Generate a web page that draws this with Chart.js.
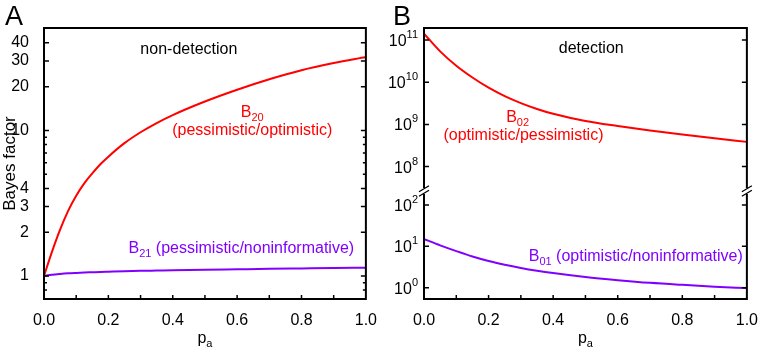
<!DOCTYPE html>
<html>
<head>
<meta charset="utf-8">
<title>Bayes factor vs p_a</title>
<script src="https://cdn.jsdelivr.net/npm/chart.js@4.4.1/dist/chart.umd.min.js"></script>
<style>
  body { margin: 0; background: #fff; }
  #wrap { position: relative; width: 762px; height: 350px; }
  .panel { position: absolute; top: 0; width: 381px; height: 350px; }
</style>
</head>
<body>
<div id="wrap">
  <div class="panel" style="left:0"><canvas id="chartA"></canvas></div>
  <div class="panel" style="left:381px"><canvas id="chartB"></canvas></div>
</div>
<script>
// Panel A (non-detection)
const pA = [0, 0.025, 0.05, 0.075, 0.1, 0.125, 0.15, 0.175, 0.2, 0.25, 0.3, 0.35, 0.4, 0.5, 0.6, 0.7, 0.8, 0.9, 1.0];
const b20 = [1.0, 1.47, 2.08, 2.8, 3.56, 4.33, 5.07, 5.86, 6.61, 8.18, 9.72, 11.25, 12.76, 15.81, 19.05, 22.49, 25.94, 29.04, 31.99];
const b21 = [1.0, 1.02, 1.033, 1.043, 1.05, 1.056, 1.061, 1.066, 1.07, 1.078, 1.085, 1.09, 1.095, 1.104, 1.112, 1.12, 1.127, 1.134, 1.14];

// Panel B (detection)
const pB = [0, 0.05, 0.1, 0.15, 0.2, 0.25, 0.3, 0.35, 0.4, 0.5, 0.6, 0.7, 0.8, 0.9, 1.0];
const b02 = [1.41e11, 5.37e10, 2.45e10, 1.29e10, 7.41e9, 4.68e9, 3.2e9, 2.32e9, 1.78e9, 1.2e9, 9.12e8, 7.16e8, 5.75e8, 4.68e8, 3.85e8];
const b01 = [15.0, 10.6, 7.69, 5.7, 4.43, 3.6, 3.01, 2.58, 2.26, 1.81, 1.52, 1.31, 1.17, 1.06, 0.976];

// tick values
const xTickMarks = [0.1, 0.2, 0.3, 0.4, 0.5, 0.6, 0.7, 0.8, 0.9];
const yMajorA = [1, 2, 3, 4, 10, 20, 30, 40];
const yMinorA = [0.8, 0.9, 5, 6, 7, 8, 9];
const yMajorBHigh = [1e8, 1e9, 1e10, 1e11];
const yMajorBLow = [1, 10, 100];

const RED = '#ff0000';
const PURPLE = '#8000ff';
const FONT = "'Liberation Sans', Arial, Helvetica, sans-serif";

Chart.defaults.font.family = FONT;
Chart.defaults.font.size = 16;
Chart.defaults.color = '#000';

// text labels inside the plots
const notesA = [
  { parts: [['non-detection']], x: 0.45, y: 33.6, color: '#000' },
  { parts: [['B'], ['20', 'sub']], x: 0.647, y: 12.4, color: RED },
  { parts: [['(pessimistic/optimistic)']], x: 0.647, y: 9.3, color: RED },
  { parts: [['B'], ['21', 'sub'], [' (pessimistic/noninformative)']], x: 0.613, y: 1.43, color: PURPLE }
];
const notesB = [
  { parts: [['detection']], x: 0.518, y: 4.9e10, axis: 'yHigh', color: '#000' },
  { parts: [['B'], ['02', 'sub']], x: 0.29, y: 1.13e9, axis: 'yHigh', color: RED },
  { parts: [['(optimistic/pessimistic)']], x: 0.308, y: 4.3e8, axis: 'yHigh', color: RED },
  { parts: [['B'], ['01', 'sub'], [' (optimistic/noninformative)']], x: 0.656, y: 4.43, axis: 'yLow', color: PURPLE }
];

function fontFor(kind) {
  return (kind ? '11px ' : '16px ') + FONT;
}

// text with sub/superscripts, y is the baseline
function rich(ctx, parts, x, y, align, color) {
  ctx.save();
  ctx.fillStyle = color;
  ctx.textBaseline = 'alphabetic';
  ctx.textAlign = 'left';
  let w = 0;
  parts.forEach(p => { ctx.font = fontFor(p[1]); w += ctx.measureText(p[0]).width; });
  let cx = align === 'center' ? x - w / 2 : align === 'right' ? x - w : x;
  parts.forEach(p => {
    ctx.font = fontFor(p[1]);
    const dy = p[1] === 'sub' ? 4 : p[1] === 'sup' ? -8 : 0;
    ctx.fillText(p[0], cx, y + dy);
    cx += ctx.measureText(p[0]).width;
  });
  ctx.restore();
}

function yTicks(chart, id, values, len) {
  const a = chart.chartArea, s = chart.scales[id], ctx = chart.ctx;
  values.forEach(v => {
    const y = s.getPixelForValue(v);
    ctx.moveTo(a.left, y); ctx.lineTo(a.left + len, y);
    ctx.moveTo(a.right, y); ctx.lineTo(a.right - len, y);
  });
}

function xTicks(chart) {
  const a = chart.chartArea, s = chart.scales.x, ctx = chart.ctx;
  xTickMarks.forEach(v => {
    const x = s.getPixelForValue(v);
    ctx.moveTo(x, a.bottom); ctx.lineTo(x, a.bottom - 4);
  });
}

function xTitle(chart) {
  const s = chart.scales.x;
  rich(chart.ctx, [['p'], ['a', 'sub']], (s.left + s.right) / 2, 343, 'center', '#000');
}

const panelA = {
  id: 'panelA',
  afterDraw(chart) {
    const { ctx, chartArea: a } = chart;
    ctx.save();
    ctx.strokeStyle = '#000';
    ctx.lineWidth = 2;
    ctx.strokeRect(a.left, a.top, a.right - a.left, a.bottom - a.top);
    ctx.lineWidth = 1.5;
    ctx.beginPath();
    yTicks(chart, 'y', yMajorA, 5);
    yTicks(chart, 'y', yMinorA, 3);
    xTicks(chart);
    ctx.stroke();
    ctx.restore();

    const xs = chart.scales.x, ys = chart.scales.y;
    notesA.forEach(n => rich(ctx, n.parts, xs.getPixelForValue(n.x), ys.getPixelForValue(n.y), 'center', n.color));
    xTitle(chart);
    ctx.save();
    ctx.font = '27px ' + FONT;
    ctx.fillStyle = '#000';
    ctx.fillText('A', 5, 25);
    ctx.restore();
  }
};

const panelB = {
  id: 'panelB',
  afterDraw(chart) {
    const { ctx, chartArea: a } = chart;
    const by = chart.scales.yHigh.bottom;
    ctx.save();
    ctx.strokeStyle = '#000';
    ctx.lineWidth = 2;
    ctx.beginPath();
    ctx.moveTo(a.left, a.top); ctx.lineTo(a.right, a.top);
    ctx.moveTo(a.left, a.bottom); ctx.lineTo(a.right, a.bottom);
    [a.left, a.right].forEach(x => {
      ctx.moveTo(x, a.top - 1); ctx.lineTo(x, by - 3);
      ctx.moveTo(x, by + 3); ctx.lineTo(x, a.bottom + 1);
    });
    ctx.stroke();
    // axis break marks
    ctx.lineWidth = 1.3;
    ctx.beginPath();
    [a.left, a.right].forEach(x => {
      [-2.2, 2.2].forEach(d => { ctx.moveTo(x - 5, by + d + 3); ctx.lineTo(x + 5, by + d - 3); });
    });
    ctx.stroke();
    ctx.lineWidth = 1.5;
    ctx.beginPath();
    yTicks(chart, 'yHigh', yMajorBHigh, 5);
    yTicks(chart, 'yLow', yMajorBLow, 5);
    xTicks(chart);
    ctx.stroke();
    ctx.restore();

    // power-of-ten labels
    [['yHigh', yMajorBHigh], ['yLow', yMajorBLow]].forEach(([id, vals]) => {
      const s = chart.scales[id];
      vals.forEach(v => {
        const y = s.getPixelForValue(v);
        rich(ctx, [['10'], [String(Math.round(Math.log10(v))), 'sup']], a.left - 6, y + 6, 'right', '#000');
      });
    });

    const xs = chart.scales.x;
    notesB.forEach(n => rich(ctx, n.parts, xs.getPixelForValue(n.x), chart.scales[n.axis].getPixelForValue(n.y), 'center', n.color));
    xTitle(chart);
    ctx.save();
    ctx.font = '27px ' + FONT;
    ctx.fillStyle = '#000';
    ctx.fillText('B', 12, 25);
    ctx.restore();
  }
};

function xScale() {
  return {
    type: 'linear', min: 0, max: 1,
    grid: { display: false }, border: { display: false },
    ticks: { stepSize: 0.2, autoSkip: false, maxRotation: 0, padding: 4, callback: v => v.toFixed(1) },
    afterFit: s => { s.height = 51; }
  };
}

function points(xs, ys) {
  return xs.map((x, i) => ({ x: x, y: ys[i] }));
}

const common = {
  responsive: true,
  maintainAspectRatio: false,
  animation: false,
  plugins: { legend: { display: false }, tooltip: { enabled: false } },
  elements: {
    point: { radius: 0 },
    line: { borderWidth: 2, cubicInterpolationMode: 'monotone', fill: false }
  }
};

new Chart(document.getElementById('chartA'), {
  type: 'line',
  data: {
    datasets: [
      { label: 'B20', data: points(pA, b20), borderColor: RED },
      { label: 'B21', data: points(pA, b21), borderColor: PURPLE }
    ]
  },
  options: {
    ...common,
    layout: { padding: { left: 0, right: 11, top: 28, bottom: 0 } },
    scales: {
      x: xScale(),
      y: {
        type: 'logarithmic', min: 0.695, max: 50.6,
        grid: { display: false }, border: { display: false },
        ticks: {
          autoSkip: false, padding: 7,
          callback: v => yMajorA.some(t => Math.abs(t - v) < 1e-6) ? String(v) : ''
        },
        title: { display: true, text: 'Bayes factor', font: { size: 17 }, padding: 0 },
        afterFit: s => { s.width = 44; }
      }
    }
  },
  plugins: [panelA]
});

new Chart(document.getElementById('chartB'), {
  type: 'line',
  data: {
    datasets: [
      { label: 'B02', data: points(pB, b02), borderColor: RED, yAxisID: 'yHigh' },
      { label: 'B01', data: points(pB, b01), borderColor: PURPLE, yAxisID: 'yLow' }
    ]
  },
  options: {
    ...common,
    layout: { padding: { left: 0, right: 12, top: 28, bottom: 0 } },
    scales: {
      x: xScale(),
      yLow: {
        type: 'logarithmic', position: 'left', stack: 'b', stackWeight: 108,
        min: 0.532, max: 219,
        grid: { display: false }, border: { display: false }, ticks: { display: false },
        afterFit: s => { s.width = 43; }
      },
      yHigh: {
        type: 'logarithmic', position: 'left', stack: 'b', stackWeight: 163,
        min: 2.64e7, max: 1.92e11,
        grid: { display: false }, border: { display: false }, ticks: { display: false },
        afterFit: s => { s.width = 43; }
      }
    }
  },
  plugins: [panelB]
});
</script>
</body>
</html>
